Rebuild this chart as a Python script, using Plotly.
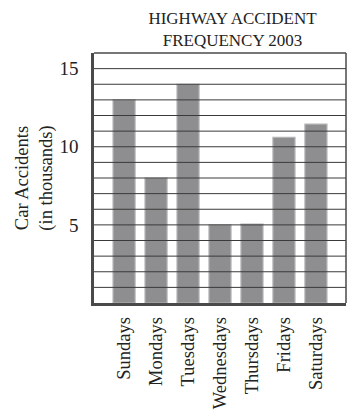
import plotly.graph_objects as go

days = ['Sundays', 'Mondays', 'Tuesdays', 'Wednesdays', 'Thursdays', 'Fridays', 'Saturdays']
accidents = [13, 8, 14, 5, 5.05, 10.6, 11.45]
y_ticks = [5, 10, 15]
grid_vals = list(range(1, 16))

serif = 'Liberation Serif, Times New Roman, serif'

fig = go.Figure(go.Bar(
    x=days,
    y=accidents,
    width=0.69,
    marker=dict(color='#8e8e90', line=dict(color='#b4b4b4', width=1.2)),
))

# horizontal grid drawn on top of the bars, like in the print
for v in grid_vals:
    fig.add_shape(type='line', xref='paper', yref='y', x0=0, x1=1, y0=v, y1=v,
                  line=dict(color='#3a3a3a', width=1), layer='above')
# top and right frame
fig.add_shape(type='line', xref='paper', yref='paper', x0=0, x1=1, y0=1, y1=1,
              line=dict(color='#4a4a4a', width=1.5), layer='above')
fig.add_shape(type='line', xref='paper', yref='paper', x0=1, x1=1, y0=0, y1=1,
              line=dict(color='#4a4a4a', width=1.5), layer='above')

fig.update_layout(
    width=355, height=410,
    margin=dict(l=94, r=9, t=53, b=107),
    paper_bgcolor='white', plot_bgcolor='white',
    showlegend=False,
    font=dict(family=serif, color='#222', size=17),
    title=dict(text='HIGHWAY ACCIDENT<br>FREQUENCY 2003', x=0.655, xanchor='center',
               yref='container', y=1, yanchor='top', pad=dict(t=24),
               font=dict(size=17, family=serif, color='#222')),
    xaxis=dict(range=[-0.94, 6.94], tickangle=-90, showgrid=False, zeroline=False,
               showline=True, linecolor='#4a4a4a', linewidth=2.5,
               ticks='outside', ticklen=4, tickcolor='rgba(0,0,0,0)',
               tickfont=dict(size=18.5, family=serif), automargin=False),
    yaxis=dict(range=[0, 16], tickvals=y_ticks, showgrid=False, zeroline=False,
               showline=True, linecolor='#4a4a4a', linewidth=2.5,
               ticks='outside', ticklen=9, tickcolor='rgba(0,0,0,0)',
               tickfont=dict(size=19, family=serif),
               title=dict(text='Car Accidents<br>(in thousands)', standoff=2,
                          font=dict(size=18.5, family=serif)),
               automargin=False),
)

# page has a default body margin; drop it so the figure sits at the corner
fig.write_html("out.html", config={'displayModeBar': False},
               post_script="document.body.style.margin='0';")
